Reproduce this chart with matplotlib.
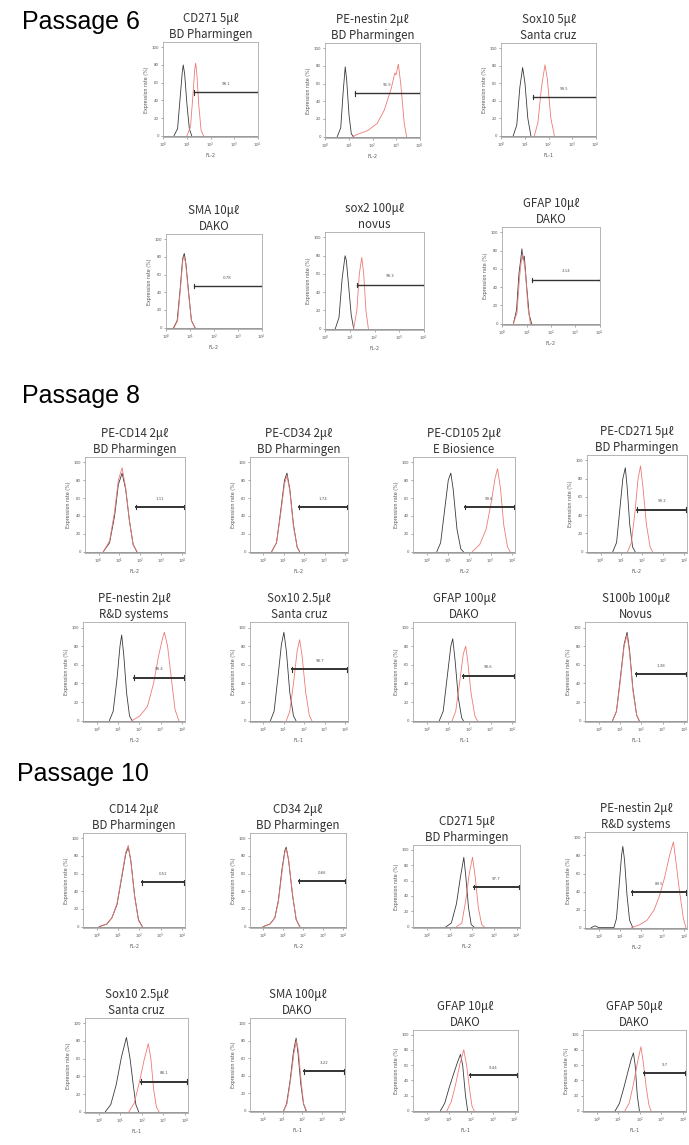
import matplotlib
matplotlib.use("Agg")
from matplotlib import pyplot as plt

# ---- data: (log decade, % of max) ----
# Passage 6
p6_cd271_ctrl = [(0.45, 0), (0.6, 8), (0.7, 40), (0.8, 72), (0.84, 80), (0.9, 70), (1.0, 35), (1.1, 8), (1.2, 0)]
p6_cd271_stain = [(1.0, 0), (1.15, 10), (1.25, 45), (1.33, 75), (1.37, 82), (1.42, 70), (1.5, 35), (1.6, 6), (1.7, 0)]
p6_nestin_ctrl = [(0.5, 0), (0.65, 10), (0.75, 50), (0.84, 79), (0.9, 65), (1.0, 25), (1.1, 3), (1.2, 0)]
p6_nestin_stain = [(1.15, 0), (1.4, 3), (1.8, 7), (2.2, 15), (2.5, 30), (2.8, 55), (2.95, 72), (3.0, 70),
                   (3.1, 82), (3.2, 60), (3.35, 15), (3.45, 0)]
p6_sox10_ctrl = [(0.5, 0), (0.65, 12), (0.78, 55), (0.9, 78), (1.0, 60), (1.12, 20), (1.25, 0)]
p6_sox10_stain = [(1.4, 0), (1.55, 15), (1.7, 55), (1.85, 81), (1.95, 65), (2.1, 20), (2.25, 0)]
p6_sma_ctrl = [(0.3, 0), (0.45, 8), (0.58, 45), (0.68, 78), (0.75, 84), (0.82, 72), (0.95, 35), (1.05, 8), (1.2, 0)]
p6_sma_stain = [(0.32, 0), (0.47, 8), (0.6, 48), (0.7, 80), (0.8, 75), (0.93, 38), (1.05, 8), (1.2, 0)]
p6_sox2_ctrl = [(0.4, 0), (0.55, 12), (0.68, 55), (0.8, 80), (0.85, 75), (0.95, 45), (1.05, 15), (1.15, 0)]
p6_sox2_stain = [(1.15, 0), (1.28, 20), (1.38, 60), (1.48, 78), (1.56, 60), (1.65, 20), (1.75, 0)]
p6_gfap_ctrl = [(0.45, 0), (0.58, 15), (0.68, 55), (0.76, 72), (0.8, 82), (0.85, 70), (0.9, 74), (1.0, 40),
                (1.1, 10), (1.2, 0)]
p6_gfap_stain = [(0.45, 0), (0.6, 12), (0.7, 50), (0.78, 70), (0.84, 76), (0.95, 55), (1.05, 18), (1.15, 0)]

# Passage 8
p8_cd14_ctrl = [(0.23, 0), (0.53, 10), (0.77, 40), (0.95, 75), (1.13, 88), (1.3, 70), (1.48, 35), (1.66, 8), (1.84, 0)]
p8_cd14_stain = [(0.23, 0), (0.53, 12), (0.77, 45), (0.95, 80), (1.13, 94), (1.3, 72), (1.48, 35), (1.66, 8), (1.84, 0)]
p8_cd34_ctrl = [(0.41, 0), (0.65, 10), (0.85, 45), (1.04, 80), (1.16, 88), (1.3, 70), (1.48, 30), (1.66, 5), (1.78, 0)]
p8_cd34_stain = [(0.41, 0), (0.65, 10), (0.85, 42), (1.04, 76), (1.16, 85), (1.3, 68), (1.48, 28), (1.66, 5), (1.78, 0)]
p8_cd105_ctrl = [(0.47, 0), (0.65, 10), (0.83, 45), (1.01, 80), (1.13, 88), (1.24, 70), (1.42, 25), (1.6, 3), (1.72, 0)]
p8_cd105_stain = [(2.14, 0), (2.49, 8), (2.79, 25), (3.03, 55), (3.21, 82), (3.33, 93), (3.47, 70), (3.62, 30),
                  (3.8, 5), (3.92, 0)]
p8_cd271_ctrl = [(0.59, 0), (0.77, 10), (0.92, 45), (1.07, 80), (1.19, 92), (1.28, 70), (1.4, 30), (1.54, 5), (1.66, 0)]
p8_cd271_stain = [(1.3, 0), (1.48, 10), (1.66, 45), (1.8, 80), (1.92, 94), (2.04, 70), (2.2, 30), (2.38, 5), (2.49, 0)]
p8_nestin_ctrl = [(0.59, 0), (0.77, 10), (0.95, 45), (1.09, 80), (1.17, 92), (1.27, 70), (1.4, 30), (1.54, 5), (1.66, 0)]
p8_nestin_stain = [(1.66, 0), (2.02, 5), (2.38, 15), (2.67, 40), (2.91, 70), (3.09, 88), (3.18, 95), (3.33, 80),
                   (3.51, 45), (3.68, 12), (3.86, 0)]
p8_sox10_ctrl = [(0.35, 0), (0.53, 10), (0.71, 45), (0.89, 82), (1.01, 95), (1.13, 75), (1.3, 30), (1.48, 5), (1.6, 0)]
p8_sox10_stain = [(1.13, 0), (1.3, 10), (1.48, 40), (1.66, 75), (1.78, 87), (1.9, 70), (2.08, 30), (2.26, 5), (2.38, 0)]
p8_gfap_ctrl = [(0.59, 0), (0.77, 10), (0.95, 45), (1.13, 80), (1.22, 88), (1.33, 65), (1.48, 25), (1.64, 3), (1.72, 0)]
p8_gfap_stain = [(1.19, 0), (1.36, 10), (1.54, 40), (1.72, 72), (1.83, 80), (1.92, 65), (2.08, 30), (2.26, 5), (2.38, 0)]
p8_s100b_ctrl = [(0.65, 0), (0.83, 10), (1.01, 45), (1.19, 82), (1.33, 95), (1.45, 75), (1.6, 35), (1.78, 6), (1.9, 0)]
p8_s100b_stain = [(0.65, 0), (0.83, 10), (1.01, 42), (1.19, 80), (1.33, 92), (1.45, 72), (1.6, 33), (1.78, 6), (1.9, 0)]

# Passage 10
p10_cd14_ctrl = [(0.11, 0), (0.47, 3), (0.71, 10), (0.95, 25), (1.19, 58), (1.36, 82), (1.48, 90), (1.6, 75),
                 (1.78, 35), (1.96, 8), (2.14, 0)]
p10_cd14_stain = [(0.11, 0), (0.47, 3), (0.71, 10), (0.95, 26), (1.19, 60), (1.36, 84), (1.48, 92), (1.6, 74),
                  (1.78, 34), (1.96, 7), (2.14, 0)]
p10_cd34_ctrl = [(0.0, 0), (0.35, 3), (0.59, 10), (0.77, 30), (0.95, 65), (1.09, 86), (1.16, 90), (1.28, 75),
                 (1.48, 35), (1.66, 8), (1.84, 0)]
p10_cd34_stain = [(0.0, 0), (0.35, 3), (0.59, 10), (0.77, 28), (0.95, 62), (1.09, 84), (1.16, 88), (1.28, 76),
                  (1.48, 36), (1.66, 8), (1.84, 0)]
p10_cd271_ctrl = [(0.83, 0), (1.07, 5), (1.3, 30), (1.48, 65), (1.63, 90), (1.72, 65), (1.84, 25), (1.96, 3), (2.08, 0)]
p10_cd271_stain = [(1.3, 0), (1.54, 5), (1.72, 35), (1.88, 70), (2.02, 90), (2.14, 65), (2.28, 25), (2.43, 3), (2.55, 0)]
p10_nestin_ctrl = [(-0.36, 0), (-0.18, 2), (0.0, 0), (0.71, 0), (0.83, 10), (0.95, 45), (1.07, 80), (1.13, 90),
                   (1.21, 75), (1.33, 35), (1.45, 8), (1.6, 0)]
p10_nestin_stain = [(1.54, 0), (1.9, 3), (2.26, 8), (2.61, 20), (2.85, 35), (3.09, 55), (3.33, 80), (3.51, 95),
                    (3.62, 75), (3.8, 40), (3.98, 10), (4.1, 0)]
p10_sox10_ctrl = [(0.3, 0), (0.55, 8), (0.8, 30), (1.05, 62), (1.28, 84), (1.45, 60), (1.6, 30), (1.72, 8), (1.85, 0)]
p10_sox10_stain = [(1.4, 0), (1.65, 10), (1.9, 35), (2.1, 58), (2.3, 77), (2.42, 60), (2.55, 25), (2.68, 5), (2.8, 0)]
p10_sma_ctrl = [(1.05, 0), (1.2, 8), (1.38, 35), (1.55, 68), (1.68, 83), (1.78, 65), (1.92, 30), (2.05, 8), (2.18, 0)]
p10_sma_stain = [(1.05, 0), (1.22, 8), (1.4, 35), (1.57, 66), (1.7, 80), (1.8, 68), (1.94, 32), (2.06, 8), (2.2, 0)]
p10_gfap10_ctrl = [(0.6, 0), (0.8, 10), (1.0, 30), (1.2, 48), (1.4, 65), (1.52, 74), (1.62, 60), (1.75, 20), (1.85, 0)]
p10_gfap10_stain = [(0.9, 0), (1.1, 12), (1.3, 35), (1.5, 62), (1.67, 80), (1.8, 60), (1.95, 25), (2.05, 6), (2.15, 0)]
p10_gfap50_ctrl = [(0.85, 0), (1.05, 10), (1.25, 30), (1.45, 52), (1.6, 68), (1.7, 76), (1.78, 60), (1.88, 20), (1.98, 0)]
p10_gfap50_stain = [(1.3, 0), (1.5, 10), (1.7, 35), (1.9, 65), (2.05, 84), (2.15, 65), (2.3, 30), (2.42, 8), (2.52, 0)]

titles = ["CD271 5μℓ\nBD Pharmingen", "PE-nestin 2μℓ\nBD Pharmingen", "Sox10 5μℓ\nSanta cruz",
          "SMA 10μℓ\nDAKO", "sox2 100μℓ\nnovus", "GFAP 10μℓ\nDAKO",
          "PE-CD14 2μℓ\nBD Pharmingen", "PE-CD34 2μℓ\nBD Pharmingen", "PE-CD105 2μℓ\nE Biosience",
          "PE-CD271 5μℓ\nBD Pharmingen",
          "PE-nestin 2μℓ\nR&D systems", "Sox10 2.5μℓ\nSanta cruz", "GFAP 100μℓ\nDAKO", "S100b 100μℓ\nNovus",
          "CD14 2μℓ\nBD Pharmingen", "CD34 2μℓ\nBD Pharmingen", "CD271 5μℓ\nBD Pharmingen",
          "PE-nestin 2μℓ\nR&D systems",
          "Sox10 2.5μℓ\nSanta cruz", "SMA 100μℓ\nDAKO", "GFAP 10μℓ\nDAKO", "GFAP 50μℓ\nDAKO"]
channels = ["FL-2", "FL-2", "FL-1", "FL-2", "FL-2", "FL-2",
            "FL-2", "FL-2", "FL-2", "FL-2",
            "FL-2", "FL-1", "FL-1", "FL-1",
            "FL-2", "FL-2", "FL-2", "FL-2",
            "FL-1", "FL-1", "FL-1", "FL-1"]
gate_start = [1.29, 1.26, 1.32, 1.14, 1.28, 1.22,
              1.78, 1.73, 1.78, 1.76,
              1.73, 1.42, 1.68, 1.73,
              2.14, 1.78, 2.07, 1.54,
              1.94, 2.08, 1.94, 2.2]
gate_level = [49, 49, 44, 47, 48, 48,
              50, 50, 50, 46,
              46, 55, 48, 50,
              50, 52, 52, 39,
              34, 45, 47, 50]
gate_label = ["98.1", "96.9", "99.5", "0.78", "98.3", "3.14",
              "1.11", "1.74", "99.6", "99.2",
              "98.4", "98.7", "98.6", "1.38",
              "0.52", "0.66", "97.7", "89.5",
              "88.1", "3.22", "9.44", "9.7"]
controls = [p6_cd271_ctrl, p6_nestin_ctrl, p6_sox10_ctrl, p6_sma_ctrl, p6_sox2_ctrl, p6_gfap_ctrl,
            p8_cd14_ctrl, p8_cd34_ctrl, p8_cd105_ctrl, p8_cd271_ctrl,
            p8_nestin_ctrl, p8_sox10_ctrl, p8_gfap_ctrl, p8_s100b_ctrl,
            p10_cd14_ctrl, p10_cd34_ctrl, p10_cd271_ctrl, p10_nestin_ctrl,
            p10_sox10_ctrl, p10_sma_ctrl, p10_gfap10_ctrl, p10_gfap50_ctrl]
stained = [p6_cd271_stain, p6_nestin_stain, p6_sox10_stain, p6_sma_stain, p6_sox2_stain, p6_gfap_stain,
           p8_cd14_stain, p8_cd34_stain, p8_cd105_stain, p8_cd271_stain,
           p8_nestin_stain, p8_sox10_stain, p8_gfap_stain, p8_s100b_stain,
           p10_cd14_stain, p10_cd34_stain, p10_cd271_stain, p10_nestin_stain,
           p10_sox10_stain, p10_sma_stain, p10_gfap10_stain, p10_gfap50_stain]
passages = ["Passage 6", "Passage 8", "Passage 10"]

# ---- layout (pixel boxes: left, right, top, bottom) ----
W, H = 689, 1145
boxes = [(163, 258, 42, 137), (325, 420, 43, 138), (501, 596, 43, 137),
         (166, 262, 234, 329), (325, 424, 232, 330), (502, 600, 227, 325),
         (85, 185, 457, 553), (250, 348, 457, 553), (413, 515, 457, 553), (587, 687, 455, 553),
         (83, 185, 622, 722), (250, 348, 622, 722), (413, 515, 622, 722), (585, 687, 622, 722),
         (83, 185, 833, 928), (250, 346, 833, 928), (413, 520, 845, 928), (585, 687, 832, 929),
         (85, 188, 1018, 1113), (250, 345, 1018, 1112), (413, 518, 1030, 1112), (583, 686, 1030, 1112)]
heading_pos = [(22, 22), (22, 396), (17, 774)]

title_font = ['Noto Sans CJK KR', 'DejaVu Sans']
fig = plt.figure(figsize=(W / 100, H / 100), dpi=100)

for (x, y), txt in zip(heading_pos, passages):
    fig.text(x / W, 1 - y / H, txt, fontsize=18, family='Liberation Sans', va='center', ha='left')

for i, (l, r, t, b) in enumerate(boxes):
    ax = fig.add_axes([l / W, 1 - b / H, (r - l) / W, (b - t) / H])
    p6 = i < 6
    xmin, xmax = (-0.02, 4.02) if p6 else (-0.65, 4.15)
    gate_end = 4.0 if p6 else 4.12

    cx, cy = zip(*controls[i])
    sx, sy = zip(*stained[i])
    ax.plot(cx, cy, color='#3a3a3a', lw=0.6)
    ax.plot(sx, sy, color='#ee7a74', lw=0.6)
    ax.plot([xmin, xmax], [0, 0], color='#888888', lw=0.6)

    lw_gate = 1.0 if p6 else 1.4
    ax.plot([gate_start[i], gate_end], [gate_level[i], gate_level[i]], color='#333333', lw=lw_gate)
    ax.plot([gate_start[i]] * 2, [gate_level[i] - 2.5, gate_level[i] + 2.5], color='#333333', lw=0.8)
    ax.plot([gate_end] * 2, [gate_level[i] - 2.5, gate_level[i] + 2.5], color='#333333', lw=0.8)
    ax.text((gate_start[i] + gate_end) / 2, gate_level[i] + 7, gate_label[i], fontsize=2.8,
            ha='center', va='bottom', color='#555555')

    ax.set_xlim(xmin, xmax)
    ax.set_ylim(-1.5, 106)
    ax.set_xticks([0, 1, 2, 3, 4])
    ax.set_xticklabels(['$10^{%d}$' % k for k in range(5)])
    ax.set_yticks([0, 20, 40, 60, 80, 100])
    ax.tick_params(labelsize=2.8, length=1.5, width=0.4, pad=1.5, colors='#666666', labelcolor='#555555')
    for s in ax.spines.values():
        s.set_color('#aaaaaa')
        s.set_linewidth(0.6)
    ax.set_xlabel(channels[i], fontsize=3.4, labelpad=1.5, color='#555555')
    ax.set_ylabel('Expression rate (%)', fontsize=3.4, labelpad=1.5, color='#555555')
    ax.set_title(titles[i], fontsize=8.3, family=title_font, color='#333333', pad=3, linespacing=1.25)

fig.savefig('out.png', dpi=100)
